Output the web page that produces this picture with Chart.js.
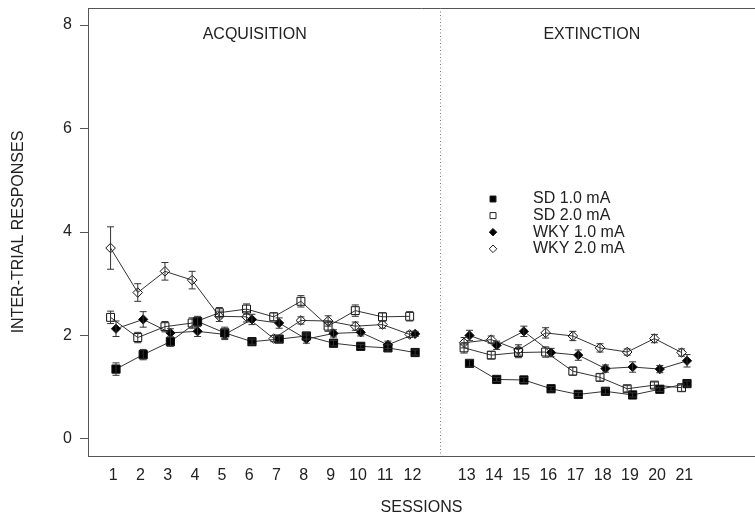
<!DOCTYPE html>
<html>
<head>
<meta charset="utf-8">
<script src="https://cdn.jsdelivr.net/npm/chart.js@4.4.0/dist/chart.umd.min.js"></script>
<style>
  body { margin: 0; background: #fff; }
  canvas { display: block; }
</style>
</head>
<body>
<canvas id="chart" width="755" height="517"></canvas>
<script>
// Sessions and ticks
const acqSessions = [1, 2, 3, 4, 5, 6, 7, 8, 9, 10, 11, 12];
const extSessions = [13, 14, 15, 16, 17, 18, 19, 20, 21];
const yTicks = [0, 2, 4, 6, 8];
const seriesNames = ['SD 1.0 mA', 'SD 2.0 mA', 'WKY 1.0 mA', 'WKY 2.0 mA'];

// Acquisition means (sessions 1-12)
const sd1Acq  = [1.35, 1.63, 1.88, 2.27, 2.05, 1.88, 1.93, 1.99, 1.85, 1.79, 1.76, 1.67];
const sd2Acq  = [2.35, 1.96, 2.17, 2.24, 2.44, 2.51, 2.36, 2.66, 2.18, 2.48, 2.36, 2.37];
const wky1Acq = [2.13, 2.31, 2.05, 2.08, 2.02, 2.31, 2.24, 1.93, 2.04, 2.06, 1.82, 2.03];
const wky2Acq = [3.69, 2.83, 3.24, 3.07, 2.37, 2.36, 1.94, 2.29, 2.28, 2.18, 2.21, 2.02];

// Acquisition SEM
const sd1AcqErr  = [0.12, 0.10, 0.09, 0.10, 0.11, 0.05, 0.06, 0.06, 0.05, 0.04, 0.06, 0.05];
const sd2AcqErr  = [0.12, 0.10, 0.10, 0.10, 0.10, 0.10, 0.08, 0.11, 0.10, 0.11, 0.08, 0.09];
const wky1AcqErr = [0.15, 0.15, 0.08, 0.10, 0.10, 0.10, 0.10, 0.08, 0.07, 0.07, 0.07, 0.05];
const wky2AcqErr = [0.41, 0.17, 0.17, 0.17, 0.10, 0.10, 0.06, 0.07, 0.10, 0.08, 0.07, 0.06];

// Extinction means (sessions 13-21)
const sd1Ext  = [1.46, 1.15, 1.14, 0.97, 0.86, 0.92, 0.85, 0.96, 1.07];
const sd2Ext  = [1.76, 1.62, 1.67, 1.68, 1.31, 1.19, 0.97, 1.04, 0.99];
const wky1Ext = [2.00, 1.81, 2.08, 1.67, 1.62, 1.36, 1.39, 1.35, 1.51];
const wky2Ext = [1.86, 1.92, 1.72, 2.05, 1.99, 1.76, 1.68, 1.94, 1.67];

// Extinction SEM
const sd1ExtErr  = [0.07, 0.04, 0.05, 0.04, 0.04, 0.05, 0.04, 0.04, 0.05];
const sd2ExtErr  = [0.10, 0.07, 0.10, 0.10, 0.08, 0.07, 0.06, 0.06, 0.07];
const wky1ExtErr = [0.10, 0.08, 0.10, 0.08, 0.10, 0.07, 0.10, 0.07, 0.12];
const wky2ExtErr = [0.10, 0.07, 0.10, 0.10, 0.09, 0.08, 0.06, 0.08, 0.07];

// one empty slot between the two phases
function sessionPos(s) {
    return s <= 12 ? s : s + 1;
}

function buildPoints(acq, ext, acqErr, extErr, dodge) {
    const pts = acqSessions.map((s, i) => ({ x: sessionPos(s) + dodge, y: acq[i], err: acqErr[i] }));
    pts.push({ x: 13, y: null, err: 0 });
    extSessions.forEach((s, i) => pts.push({ x: sessionPos(s) + dodge, y: ext[i], err: extErr[i] }));
    return pts;
}

const markers = [
    { style: 'rect', fill: '#000', radius: 5.8 },
    { style: 'rect', fill: 'transparent', radius: 5.6 },
    { style: 'rectRot', fill: '#000', radius: 4.6 },
    { style: 'rectRot', fill: 'transparent', radius: 4.8 }
];

const allData = [
    buildPoints(sd1Acq, sd1Ext, sd1AcqErr, sd1ExtErr, 0.1),
    buildPoints(sd2Acq, sd2Ext, sd2AcqErr, sd2ExtErr, -0.1),
    buildPoints(wky1Acq, wky1Ext, wky1AcqErr, wky1ExtErr, 0.1),
    buildPoints(wky2Acq, wky2Ext, wky2AcqErr, wky2ExtErr, -0.1)
];

const tickLabels = acqSessions.concat(extSessions).map(String);
const FONT = "'Liberation Sans', Arial, sans-serif";
const TEXT = '#222';
const AXIS = '#555';

Chart.defaults.font.family = FONT;
Chart.defaults.font.size = 16;
Chart.defaults.color = TEXT;

// Error bars on top of the series
const errorBars = {
    id: 'errorBars',
    afterDatasetsDraw(chart) {
        const ctx = chart.ctx;
        const xs = chart.scales.x, ys = chart.scales.y;
        ctx.save();
        ctx.strokeStyle = '#333';
        ctx.lineWidth = 1;
        chart.data.datasets.forEach(ds => {
            ds.data.forEach(p => {
                if (p.y === null) return;
                const x = xs.getPixelForValue(p.x);
                const y1 = ys.getPixelForValue(p.y - p.err);
                const y2 = ys.getPixelForValue(p.y + p.err);
                ctx.beginPath();
                ctx.moveTo(x, y1); ctx.lineTo(x, y2);
                ctx.moveTo(x - 3.5, y1); ctx.lineTo(x + 3.5, y1);
                ctx.moveTo(x - 3.5, y2); ctx.lineTo(x + 3.5, y2);
                ctx.stroke();
            });
        });
        ctx.restore();
    }
};

// Frame top line, phase divider, labels, legend, axis titles
const decorations = {
    id: 'decorations',
    afterDraw(chart) {
        const ctx = chart.ctx;
        const area = chart.chartArea;
        const xs = chart.scales.x;
        ctx.save();

        ctx.strokeStyle = AXIS;
        ctx.lineWidth = 1;
        ctx.beginPath();
        ctx.moveTo(area.left, area.top + 0.5);
        ctx.lineTo(area.right, area.top + 0.5);
        ctx.stroke();

        const dx = Math.round(xs.getPixelForValue(13)) + 0.5;
        ctx.strokeStyle = '#777';
        ctx.setLineDash([1, 2.5]);
        ctx.beginPath();
        ctx.moveTo(dx, area.top);
        ctx.lineTo(dx, area.bottom);
        ctx.stroke();
        ctx.setLineDash([]);

        ctx.fillStyle = TEXT;
        ctx.font = '16px ' + FONT;
        ctx.textAlign = 'center';
        ctx.textBaseline = 'middle';
        ctx.fillText('ACQUISITION', xs.getPixelForValue(6.2), 35);
        ctx.fillText('EXTINCTION', xs.getPixelForValue(18.6), 35);

        ctx.fillText('SESSIONS', (area.left + area.right) / 2, 508);

        ctx.save();
        ctx.translate(19, (area.top + area.bottom) / 2);
        ctx.rotate(-Math.PI / 2);
        ctx.fillText('INTER-TRIAL RESPONSES', 0, 0);
        ctx.restore();

        // legend
        ctx.textAlign = 'left';
        seriesNames.forEach((name, i) => {
            const y = 199 + i * 16.6;
            const mx = 493;
            const m = markers[i];
            ctx.beginPath();
            if (m.style === 'rect') {
                ctx.rect(mx - 3, y - 3, 6, 6);
            } else {
                ctx.moveTo(mx - 3.8, y);
                ctx.lineTo(mx, y - 3.8);
                ctx.lineTo(mx + 3.8, y);
                ctx.lineTo(mx, y + 3.8);
                ctx.closePath();
            }
            if (m.fill !== 'transparent') {
                ctx.fillStyle = '#000';
                ctx.fill();
            }
            ctx.strokeStyle = '#222';
            ctx.stroke();
            ctx.fillStyle = TEXT;
            ctx.fillText(name, 533, y);
        });

        ctx.restore();
    }
};

new Chart(document.getElementById('chart'), {
    type: 'line',
    data: {
        datasets: allData.map((pts, i) => ({
            label: seriesNames[i],
            data: pts,
            borderColor: '#333',
            borderWidth: 1,
            spanGaps: false,
            tension: 0,
            pointStyle: markers[i].style,
            pointRadius: markers[i].radius,
            pointBackgroundColor: markers[i].fill,
            pointBorderColor: '#111',
            pointBorderWidth: 1
        }))
    },
    options: {
        responsive: false,
        devicePixelRatio: 1,
        animation: false,
        layout: { autoPadding: false, padding: { top: 8, right: 0, left: 0, bottom: 0 } },
        plugins: {
            legend: { display: false },
            tooltip: { enabled: false }
        },
        scales: {
            x: {
                type: 'linear',
                min: 0.07,
                max: 24.6,
                grid: { display: false, drawTicks: false },
                border: { display: true, color: AXIS, width: 1 },
                afterBuildTicks: axis => {
                    axis.ticks = acqSessions.concat(extSessions).map(s => ({ value: sessionPos(s) }));
                },
                afterFit: axis => {
                    axis.height = 61;
                    axis.paddingLeft = 0;
                    axis.paddingRight = 0;
                },
                ticks: {
                    autoSkip: false,
                    maxRotation: 0,
                    padding: 10,
                    color: TEXT,
                    callback: (value, index) => tickLabels[index]
                }
            },
            y: {
                min: -0.33,
                max: 8.33,
                grid: { display: true, drawOnChartArea: false, drawTicks: true, tickLength: 8, color: AXIS },
                border: { display: true, color: AXIS, width: 1 },
                afterBuildTicks: axis => {
                    axis.ticks = yTicks.map(v => ({ value: v }));
                },
                afterFit: axis => {
                    axis.width = 88;
                    axis.paddingTop = 0;
                    axis.paddingBottom = 0;
                },
                ticks: {
                    padding: 8,
                    color: TEXT,
                    callback: value => String(value)
                }
            }
        }
    },
    plugins: [errorBars, decorations]
});
</script>
</body>
</html>
